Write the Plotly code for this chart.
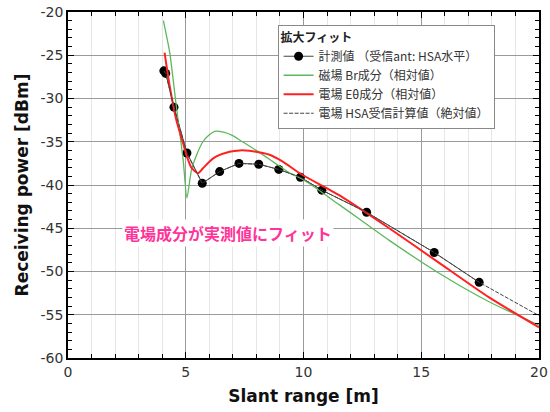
import plotly.graph_objects as go

# Measured (受信ant: HSA水平)
meas_x = [4.07, 4.15, 4.5, 5.05, 5.7, 6.44, 7.26, 8.1, 8.95, 9.87, 10.78, 12.68, 15.55, 17.46]
meas_y = [-26.8, -27.1, -31.0, -36.3, -39.8, -38.45, -37.5, -37.6, -38.2, -39.1, -40.6, -43.15, -47.8, -51.25]

# Br component (relative)
br_x = [4.05, 4.32, 4.6, 4.89, 5.05, 5.24, 5.45, 5.73, 6.0, 6.23, 6.6, 7.0, 7.29, 7.99, 8.7, 9.4,
        10.0, 11.53, 13.64, 15.76, 17.88, 20.0]
br_y = [-21.0, -24.7, -30.9, -37.1, -41.5, -38.3, -36.6, -35.0, -34.2, -33.8, -33.9, -34.3, -34.8, -36.0, -37.3, -38.6,
        -39.4, -42.3, -46.4, -50.2, -53.5, -56.2]

# Etheta component (relative)
et_x = [4.1, 4.32, 4.6, 4.89, 5.05, 5.24, 5.52, 5.72, 6.0, 6.3, 6.86, 7.29, 7.7, 8.56, 9.12,
        9.87, 11.53, 13.64, 15.76, 17.88, 20.0]
et_y = [-24.7, -28.6, -32.5, -35.2, -36.7, -38.0, -38.65, -38.1, -37.3, -36.7, -36.15, -36.0, -36.05, -36.5, -37.3,
        -38.7, -41.2, -45.0, -49.0, -53.0, -56.45]

# HSA calculated (absolute)
calc_x = meas_x + [20.0]
calc_y = meas_y + [-55.1]

y_ticks = [-60, -55, -50, -45, -40, -35, -30, -25, -20]
y_labels = ["-60", "-55", "-50", "-45", "-40", "-35", "-30", "-25", "-20"]
x_ticks = [0, 5, 10, 15, 20]
x_labels = ["0", "5", "10", "15", "20"]

FONT = "DejaVu Sans, Noto Sans CJK JP, sans-serif"
JP = "Noto Sans CJK JP, sans-serif"

fig = go.Figure()
fig.add_trace(go.Scatter(x=meas_x, y=meas_y, mode="lines+markers",
                         name="計測値 （受信ant: HSA水平）",
                         line=dict(color="#444444", width=1),
                         marker=dict(color="black", size=9)))
fig.add_trace(go.Scatter(x=br_x, y=br_y, mode="lines", name="磁場 Br成分（相対値）",
                         line=dict(color="#5cb85c", width=1.3, shape="spline", smoothing=0.6)))
fig.add_trace(go.Scatter(x=et_x, y=et_y, mode="lines", name="電場 Eθ成分（相対値）",
                         line=dict(color="#ff2020", width=2, shape="spline", smoothing=0.6)))
fig.add_trace(go.Scatter(x=calc_x, y=calc_y, mode="lines", name="電場 HSA受信計算値（絶対値）",
                         line=dict(color="#444444", width=1, dash="4px,1.5px")))

fig.add_annotation(x=6.8, y=-45.5, text="<b>電場成分が実測値にフィット</b>", showarrow=False,
                   font=dict(family=JP, size=16, color="#ff3399"), bgcolor="white")

axis_common = dict(showline=True, linecolor="black", linewidth=1.5, mirror="ticks",
                   ticks="inside", ticklen=6, tickcolor="black", automargin=False,
                   ticklabeloverflow="allow",
                   gridcolor="#9a9a9a", gridwidth=1, zeroline=False,
                   tickfont=dict(family=FONT, size=14, color="#333333"))

fig.update_xaxes(range=[0, 20], tickvals=x_ticks, ticktext=x_labels, **axis_common,
                 title=dict(text="<b>Slant range [m]</b>", font=dict(family=FONT, size=17, color="#111"), standoff=12),
                 minor=dict(dtick=1, ticks="inside", ticklen=4, tickcolor="black",
                            showgrid=True, gridcolor="#e6e6e6", gridwidth=1))
fig.update_yaxes(range=[-60, -20], tickvals=y_ticks, ticktext=y_labels, **axis_common,
                 title=dict(text="<b>Receiving power [dBm]</b>", font=dict(family=FONT, size=17, color="#111"), standoff=8),
                 minor=dict(dtick=1, ticks="inside", ticklen=4, tickcolor="black", showgrid=False))

fig.update_layout(
    width=550, height=412,
    margin=dict(l=68, r=11, t=12, b=54),
    plot_bgcolor="white", paper_bgcolor="white",
    showlegend=True,
    legend=dict(x=0.445, y=0.962, xanchor="left", yanchor="top",
                bgcolor="white", bordercolor="#888888", borderwidth=1,
                font=dict(family=JP, size=12, color="#333333"),
                title=dict(text="<b>拡大フィット</b>", font=dict(family=JP, size=12, color="#222")),
                tracegroupgap=0, itemwidth=30),
)

# remove the default 8px page margin so the figure sits at the window's top-left corner
fig.write_html("out.html", config={"displayModeBar": False},
               post_script="document.body.style.margin='0px';")
